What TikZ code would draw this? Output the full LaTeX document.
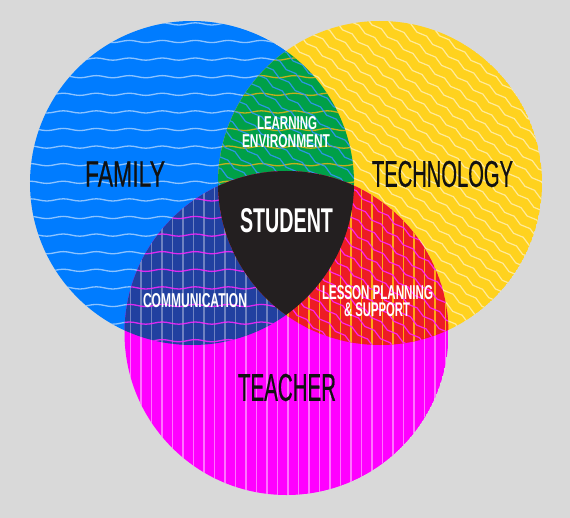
\documentclass[tikz,border=0pt]{standalone}
\usepackage{fontspec}
\usepackage{graphicx}
\usetikzlibrary{decorations.pathmorphing}
\setmainfont{Liberation Sans}
\newfontfamily\lblfont{Liberation Sans}
\newfontfamily\bigfont[FakeBold=0.8]{Liberation Sans}
\definecolor{bgc}{RGB}{217,217,217}
\definecolor{famc}{RGB}{0,124,255}
\definecolor{tecc}{RGB}{255,210,30}
\definecolor{teac}{RGB}{255,0,255}
\definecolor{grnc}{RGB}{0,160,72}
\definecolor{dbluc}{RGB}{33,64,160}
\definecolor{redc}{RGB}{237,28,36}
\definecolor{stuc}{RGB}{35,31,32}
\definecolor{txtc}{RGB}{17,17,17}
\def\famC{(192,183) circle[radius=162bp]}
\def\tecC{(380,183) circle[radius=162bp]}
\def\teaC{(286.5,333) circle[radius=162bp]}
\tikzset{
  hwave/.style={line width=1.3bp, decorate, decoration={snake, amplitude=1.1bp, segment length=33bp}},
  dwave/.style={line width=1.2bp, decorate, decoration={snake, amplitude=1.4bp, segment length=20bp}},
  vline/.style={line width=1.2bp},
  lbl/.style={inner sep=0pt, outer sep=0pt},
}
\newcommand{\famwaves}[2]{%
  \foreach \i in {0,...,20} {\draw[hwave, draw=#1, draw opacity=#2] (20,6.3+17.6*\i) -- (372,6.3+17.6*\i);}}
\newcommand{\tecwaves}[2]{%
  \begin{scope}[shift={(380,183)}, rotate=-38]
  \foreach \i in {-17,...,17} {\draw[dwave, draw=#1, draw opacity=#2] (-200,11*\i) -- (200,11*\i);}
  \end{scope}}
\newcommand{\tealines}[2]{%
  \foreach \i in {0,...,33} {\draw[vline, draw=#1, draw opacity=#2] (120+10.5*\i,160) -- (120+10.5*\i,500);}}
\begin{document}
\begin{tikzpicture}[x=1bp, y=-1bp]
\useasboundingbox (0,0) rectangle (570,518);
\fill[bgc] (0,0) rectangle (570,518);
% Family
\begin{scope}
  \clip \famC;
  \fill[famc] \famC;
  \famwaves{white}{0.55}
\end{scope}
% Technology
\begin{scope}
  \clip \tecC;
  \fill[tecc] \tecC;
  \tecwaves{white}{0.55}
\end{scope}
% Teacher
\begin{scope}
  \clip \teaC;
  \fill[teac] \teaC;
  \tealines{white}{0.45}
\end{scope}
% Family & Technology
\begin{scope}
  \clip \famC; \clip \tecC;
  \fill[grnc] (0,0) rectangle (570,518);
  \famwaves{tecc!85!black}{0.9}
  \tecwaves{famc!80!white}{0.85}
\end{scope}
% Family & Teacher
\begin{scope}
  \clip \famC; \clip \teaC;
  \fill[dbluc] (0,0) rectangle (570,518);
  \tealines{white}{0.35}
  \famwaves{teac!85!white}{0.85}
\end{scope}
% Technology & Teacher
\begin{scope}
  \clip \tecC; \clip \teaC;
  \fill[redc] (0,0) rectangle (570,518);
  \tealines{tecc!70!orange}{0.9}
  \tecwaves{teac!85!white}{0.9}
\end{scope}
% Student
\begin{scope}
  \clip \famC; \clip \tecC; \clip \teaC;
  \fill[stuc] (0,0) rectangle (570,518);
\end{scope}
% Labels
\node[lbl, text=txtc] (family) at (125,174) {\resizebox{80bp}{25bp}{\bigfont FAMILY}};
\node[lbl, text=txtc] (technology) at (442.5,174) {\resizebox{141bp}{26bp}{\bigfont TECHNOLOGY}};
\node[lbl, text=txtc] (teacher) at (287,387.5) {\resizebox{98bp}{27bp}{\bigfont TEACHER}};
\node[lbl, text=white] (student) at (286.5,221) {\resizebox{93bp}{24bp}{\lblfont\bfseries STUDENT}};
\node[lbl, text=white] (learning) at (287,123.5) {\resizebox{60bp}{13bp}{\lblfont\bfseries LEARNING}};
\node[lbl, text=white] (environment) at (286,141.5) {\resizebox{88bp}{13bp}{\lblfont\bfseries ENVIRONMENT}};
\node[lbl, text=white] (communication) at (195,301) {\resizebox{104bp}{14bp}{\lblfont\bfseries COMMUNICATION}};
\node[lbl, text=white] (lesson) at (377.5,293) {\resizebox{111bp}{14bp}{\lblfont\bfseries LESSON PLANNING}};
\node[lbl, text=white] (support) at (377,310) {\resizebox*{66bp}{14bp}{\lblfont\bfseries \& SUPPORT}};
\end{tikzpicture}
\end{document}
